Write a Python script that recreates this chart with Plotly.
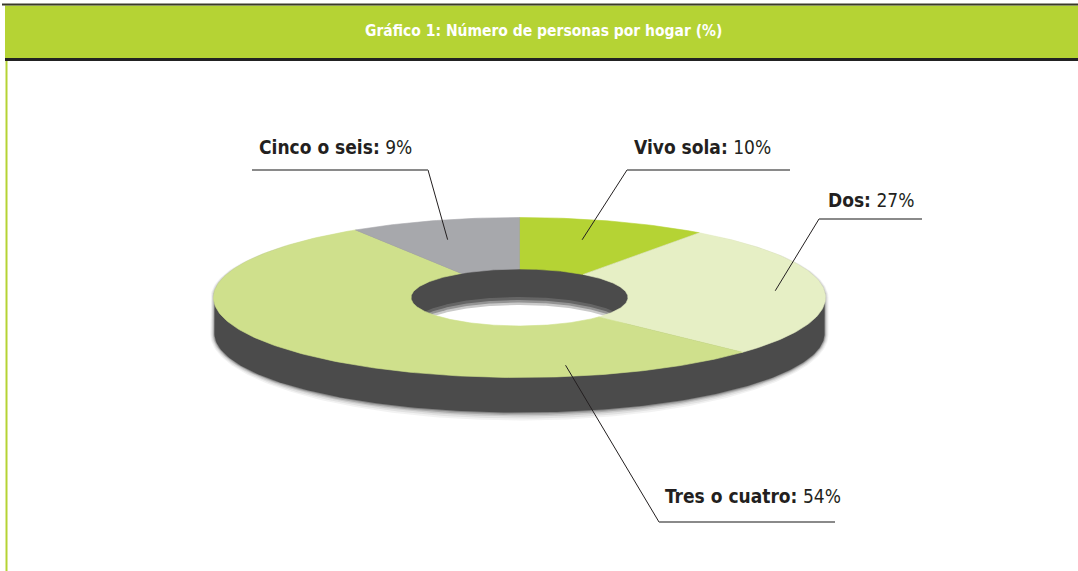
import numpy as np
import plotly.graph_objects as go

# ---------------- data ----------------
categories = ["Vivo sola", "Dos", "Tres o cuatro", "Cinco o seis"]
values = [10, 27, 54, 9]
slice_colors = ["#b5d334", "#e6efc5", "#cfe08c", "#a7a8ac"]
title_text = "Gráfico 1: Número de personas por hogar (%)"

# ---------------- geometry / style ----------------
W, H = 1078, 571
CX, CY = 519.5, 297.5
RX, RY = 306.0, 80.0
IRX, IRY = 108.5, 28.5
DEPTH = 36.0
SHADOW = "#4b4b4b"
FONT = "Liberation Sans Narrow, DejaVu Sans Condensed, Arial Narrow, sans-serif"
TXT = "#231f20"


def ell(theta, rx, ry, dy=0.0):
    return CX + rx * np.sin(theta), CY - ry * np.cos(theta) + dy


fig = go.Figure()

# --- extruded shadow (side wall), with soft blur layers below the disc ---
t = np.linspace(0, 2 * np.pi, 361)
for grow, op in [(8, 0.07), (6, 0.1), (4, 0.15), (2.5, 0.25), (1, 0.4), (0, 1.0)]:
    xs, ys = [], []
    for th in t:
        off = DEPTH if np.cos(th) < 0 else 0.0
        g = grow * (0.5 - 0.5 * np.cos(th)) - 1
        x, y = ell(th, RX + g, RY + g, off)
        xs.append(x)
        ys.append(y)
    fig.add_trace(go.Scatter(x=xs, y=ys, mode="lines", fill="toself",
                             fillcolor=SHADOW, opacity=op,
                             line=dict(width=0, color=SHADOW),
                             hoverinfo="skip", showlegend=False))

# --- see-through part of the hole (white floor, blurred top edge) ---
for off, op in [(DEPTH - 8, 0.15), (DEPTH - 5, 0.3), (DEPTH - 2.5, 0.5), (DEPTH, 1.0)]:
    xs, ys = ell(t, IRX, IRY, off)
    fig.add_trace(go.Scatter(x=xs, y=ys, mode="lines", fill="toself",
                             fillcolor="white", opacity=op,
                             line=dict(width=0, color="white"),
                             hoverinfo="skip", showlegend=False))

# --- donut slices (top face) ---
total = float(sum(values))
start = 0.0
for cat, v, col in zip(categories, values, slice_colors):
    a1 = start / total * 2 * np.pi
    a2 = (start + v) / total * 2 * np.pi
    th = np.linspace(a1, a2, max(8, int(v * 4)))
    ox, oy = ell(th, RX, RY)
    ix, iy = ell(th[::-1], IRX, IRY)
    xs = np.concatenate([ox, ix, ox[:1]])
    ys = np.concatenate([oy, iy, oy[:1]])
    fig.add_trace(go.Scatter(x=xs, y=ys, mode="lines", fill="toself",
                             fillcolor=col, line=dict(width=0.6, color=col),
                             name=cat, hoverinfo="name", showlegend=False))
    start += v

# --- labels with leader lines ---
# (anchor angle in % of circle, radial fraction, elbow x, elbow y, line end x, text x, text y)
label_layout = {
    "Cinco o seis": (95.0, 0.76, 428, 170, 252, 257, 147),
    "Vivo sola": (4.4, 0.75, 627, 170, 790, 632, 147),
    "Dos": (23.4, 0.84, 819, 219, 922, 826, 200),
    "Tres o cuatro": (47.2, 0.86, 659, 522, 835, 663, 496),
}
for cat, v in zip(categories, values):
    pct, rf, ex, ey, lx, tx, ty = label_layout[cat]
    th = pct / 100 * 2 * np.pi
    ax_, ay_ = ell(th, RX * rf, RY * rf)
    fig.add_shape(type="line", x0=ax_, y0=ay_, x1=ex, y1=ey,
                  line=dict(color="#231f20", width=1))
    fig.add_shape(type="line", x0=ex, y0=ey, x1=lx, y1=ey,
                  line=dict(color="#8a8a8a", width=2))
    fig.add_annotation(x=tx, y=ty, xanchor="left", yanchor="middle",
                       text=f"<b>{cat}:</b> {v}%", showarrow=False,
                       font=dict(family=FONT, size=19, color=TXT))

# --- title bar & frame ---
fig.add_shape(type="rect", x0=5, y0=5.5, x1=W + 20, y1=58, fillcolor="#b5d334",
              line=dict(width=0), layer="below")
fig.add_shape(type="line", x0=2, y0=4.5, x1=W + 20, y1=4.5,
              line=dict(color="#3a3a2a", width=2))
fig.add_shape(type="line", x0=5, y0=59.5, x1=W + 20, y1=59.5,
              line=dict(color="#222222", width=3))
fig.add_shape(type="line", x0=6.5, y0=61, x1=6.5, y1=H + 20,
              line=dict(color="#b5d334", width=2))
fig.add_annotation(x=543, y=31, xanchor="center", yanchor="middle",
                   text=f"<b>{title_text}</b>", showarrow=False,
                   font=dict(family=FONT, size=15.5, color="white"))

fig.update_xaxes(range=[0, W], visible=False, fixedrange=True)
fig.update_yaxes(range=[H, 0], visible=False, fixedrange=True)
fig.update_layout(width=W, height=H, margin=dict(l=0, r=0, t=0, b=0),
                  plot_bgcolor="white", paper_bgcolor="white",
                  showlegend=False)

fig.write_html("out.html",
               config={"displayModeBar": False, "staticPlot": True},
               post_script="document.body.style.margin='0px';"
                           "document.body.style.overflow='hidden';")
